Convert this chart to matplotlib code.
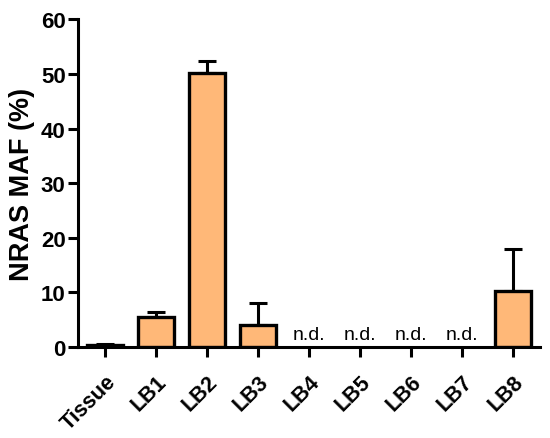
import numpy as np
import matplotlib.pyplot as plt

plt.rcParams['font.family'] = ['Liberation Sans', 'DejaVu Sans']

# dane
labels = ['Tissue', 'LB1', 'LB2', 'LB3', 'LB4', 'LB5', 'LB6', 'LB7', 'LB8']
maf = [0.3, 5.6, 50.2, 4.0, 0, 0, 0, 0, 10.2]
err = [0.2, 0.8, 2.2, 4.0, 0, 0, 0, 0, 7.8]
nd = [False, False, False, False, True, True, True, True, False]

fig = plt.figure(figsize=(5.5, 4.39), dpi=100)
ax = fig.add_axes([0.142, 0.207, 0.84, 0.747])

x = np.arange(len(labels))
for i in range(len(labels)):
    if nd[i]:
        ax.text(x[i], 1.5, 'n.d.', ha='center', va='baseline', fontsize=14)
        continue
    ax.errorbar(x[i], maf[i], yerr=[[0], [err[i]]], fmt='none', ecolor='black',
                elinewidth=2.2, capsize=6.5, capthick=2.2, zorder=1)
    ax.bar(x[i], maf[i], width=0.7, color='#ffb878', edgecolor='black',
           linewidth=2.4, zorder=2)

ax.set_xlim(-0.53, 8.53)
ax.set_ylim(0, 60)
ax.set_yticks([0, 10, 20, 30, 40, 50, 60])
ax.set_xticks(x)
ax.set_xticklabels(labels, rotation=45, ha='right', rotation_mode='anchor',
                   fontsize=15.5, fontweight='bold')
for t in ax.get_yticklabels():
    t.set_fontsize(16)
    t.set_fontweight('bold')
ax.set_ylabel('NRAS MAF (%)', fontsize=19.5, fontweight='bold', labelpad=4)

for s in ['top', 'right']:
    ax.spines[s].set_visible(False)
for s in ['left', 'bottom']:
    ax.spines[s].set_linewidth(2.2)
ax.tick_params(width=2.2, length=7)
ax.tick_params(axis='y', pad=2)
ax.tick_params(axis='x', pad=10)

fig.savefig('out.png', dpi=100)
